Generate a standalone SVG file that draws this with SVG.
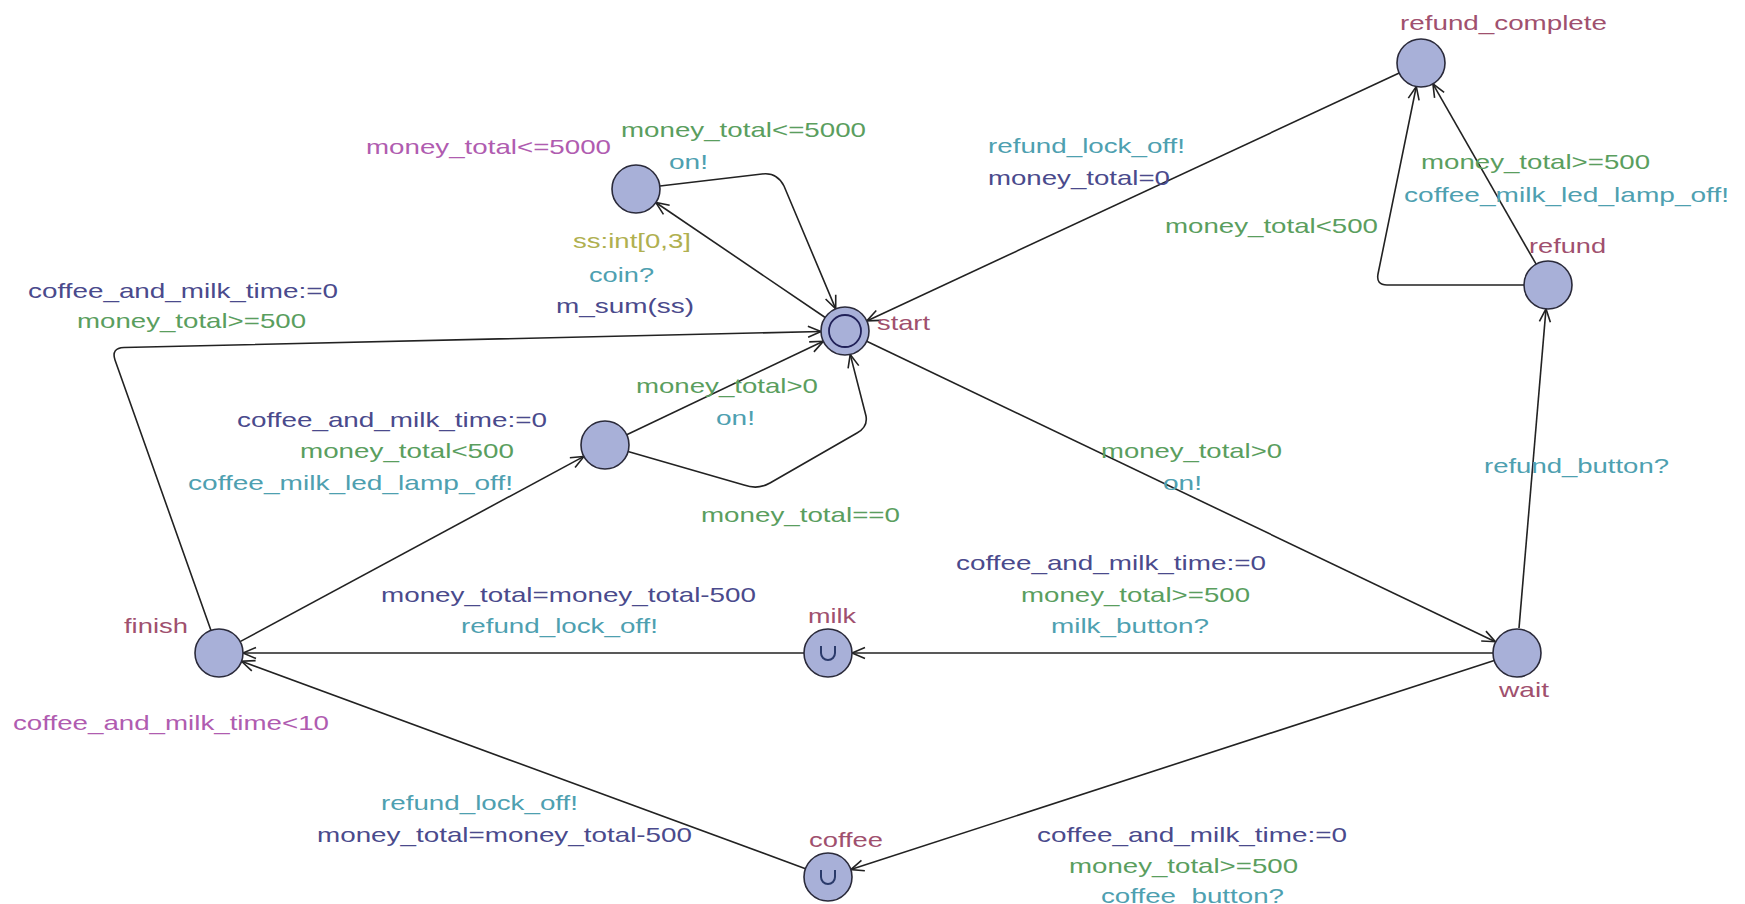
<svg xmlns="http://www.w3.org/2000/svg" width="1745" height="904" viewBox="0 0 1745 904">
<style>
text{font-family:"Liberation Sans",Arial,sans-serif;font-size:21px}
.nm{fill:#a0506e}
.inv{fill:#b05cb0}
.gd{fill:#5a9e5e}
.sy{fill:#4ea0b0}
.up{fill:#4a4a8c}
.sel{fill:#b0b050}
.loc{fill:#a8b0d8;stroke:#2a2a3a;stroke-width:1.6}
.edge{fill:none;stroke:#222;stroke-width:1.6;marker-end:url(#arr)}
.urg{fill:none;stroke:#2a3a6a;stroke-width:2}
</style>
<defs>
<marker id="arr" markerWidth="16" markerHeight="14" refX="14" refY="7" orient="auto" markerUnits="userSpaceOnUse">
<path d="M1,1.5 L14,7 L1,12.5" fill="none" stroke="#222" stroke-width="1.6"/>
</marker>
</defs>
<rect width="1745" height="904" fill="#fff"/>
<g id="connectors">
<path class="edge" d="M660,186 L762,174 Q777,172 784,186 L835.7,308.9"/>
<path class="edge" d="M825.2,317.5 L655.8,202.5"/>
<path class="edge" d="M1399.2,73.1 L866.8,320.9"/>
<path class="edge" d="M1536.1,264.2 L1432.9,83.8"/>
<path class="edge" d="M1524,285 L1387,285 Q1376,285 1378,274 L1416.3,86.5"/>
<path class="edge" d="M1519,628.1 L1546,308.9"/>
<path class="edge" d="M866.7,341.3 L1495.3,641.7"/>
<path class="edge" d="M1493,653 L852,653"/>
<path class="edge" d="M1494.2,660.4 L850.8,869.6"/>
<path class="edge" d="M804,653 L243,653"/>
<path class="edge" d="M805.5,868.7 L241.5,661.3"/>
<path class="edge" d="M240.1,641.6 L583.9,456.4"/>
<path class="edge" d="M626.7,434.7 L823.3,341.3"/>
<path class="edge" d="M628,451.5 L744,485 Q758,490 770,483 L857,433 Q868,427 866,416 L850.2,354.4"/>
<path class="edge" d="M211,630.4 L115,360 Q111,348 124,347.5 L821,331.5"/>
</g>
<g id="edge-labels">
<text class="inv" x="366" y="154" textLength="245" lengthAdjust="spacingAndGlyphs">money_total&lt;=5000</text>
<text class="gd" x="621" y="137" textLength="245" lengthAdjust="spacingAndGlyphs">money_total&lt;=5000</text>
<text class="sy" x="669" y="169" textLength="39" lengthAdjust="spacingAndGlyphs">on!</text>
<text class="sy" x="988" y="153" textLength="197" lengthAdjust="spacingAndGlyphs">refund_lock_off!</text>
<text class="up" x="988" y="185" textLength="182" lengthAdjust="spacingAndGlyphs">money_total=0</text>
<text class="gd" x="1421" y="169" textLength="229" lengthAdjust="spacingAndGlyphs">money_total&gt;=500</text>
<text class="sy" x="1404" y="202" textLength="325" lengthAdjust="spacingAndGlyphs">coffee_milk_led_lamp_off!</text>
<text class="gd" x="1165" y="233" textLength="213" lengthAdjust="spacingAndGlyphs">money_total&lt;500</text>
<text class="sel" x="573" y="248" textLength="118" lengthAdjust="spacingAndGlyphs">ss:int[0,3]</text>
<text class="sy" x="589" y="282" textLength="65" lengthAdjust="spacingAndGlyphs">coin?</text>
<text class="up" x="556" y="313" textLength="138" lengthAdjust="spacingAndGlyphs">m_sum(ss)</text>
<text class="up" x="28" y="298" textLength="310" lengthAdjust="spacingAndGlyphs">coffee_and_milk_time:=0</text>
<text class="gd" x="77" y="328" textLength="229" lengthAdjust="spacingAndGlyphs">money_total&gt;=500</text>
<text class="gd" x="636" y="393" textLength="182" lengthAdjust="spacingAndGlyphs">money_total&gt;0</text>
<text class="sy" x="716" y="425" textLength="39" lengthAdjust="spacingAndGlyphs">on!</text>
<text class="up" x="237" y="427" textLength="310" lengthAdjust="spacingAndGlyphs">coffee_and_milk_time:=0</text>
<text class="gd" x="300" y="458" textLength="214" lengthAdjust="spacingAndGlyphs">money_total&lt;500</text>
<text class="sy" x="188" y="490" textLength="325" lengthAdjust="spacingAndGlyphs">coffee_milk_led_lamp_off!</text>
<text class="gd" x="701" y="522" textLength="199" lengthAdjust="spacingAndGlyphs">money_total==0</text>
<text class="gd" x="1101" y="458" textLength="181" lengthAdjust="spacingAndGlyphs">money_total&gt;0</text>
<text class="sy" x="1163" y="490" textLength="39" lengthAdjust="spacingAndGlyphs">on!</text>
<text class="sy" x="1484" y="473" textLength="185" lengthAdjust="spacingAndGlyphs">refund_button?</text>
<text class="up" x="956" y="570" textLength="310" lengthAdjust="spacingAndGlyphs">coffee_and_milk_time:=0</text>
<text class="gd" x="1021" y="602" textLength="229" lengthAdjust="spacingAndGlyphs">money_total&gt;=500</text>
<text class="sy" x="1051" y="633" textLength="158" lengthAdjust="spacingAndGlyphs">milk_button?</text>
<text class="up" x="381" y="602" textLength="375" lengthAdjust="spacingAndGlyphs">money_total=money_total-500</text>
<text class="sy" x="461" y="633" textLength="197" lengthAdjust="spacingAndGlyphs">refund_lock_off!</text>
<text class="inv" x="13" y="730" textLength="316" lengthAdjust="spacingAndGlyphs">coffee_and_milk_time&lt;10</text>
<text class="sy" x="381" y="810" textLength="197" lengthAdjust="spacingAndGlyphs">refund_lock_off!</text>
<text class="up" x="317" y="842" textLength="375" lengthAdjust="spacingAndGlyphs">money_total=money_total-500</text>
<text class="up" x="1037" y="842" textLength="310" lengthAdjust="spacingAndGlyphs">coffee_and_milk_time:=0</text>
<text class="gd" x="1069" y="873" textLength="229" lengthAdjust="spacingAndGlyphs">money_total&gt;=500</text>
<text class="sy" x="1101" y="903" textLength="183" lengthAdjust="spacingAndGlyphs">coffee_button?</text>
</g>
<g id="node-A">
<circle class="loc" cx="636" cy="189" r="24"/>
</g>
<g id="node-start">
<circle class="loc" cx="845" cy="331" r="24"/>
<circle cx="845" cy="331" r="16" fill="none" stroke="#202058" stroke-width="1.8"/>
<text class="nm" x="877" y="330" textLength="53" lengthAdjust="spacingAndGlyphs">start</text>
</g>
<g id="node-refund_complete">
<circle class="loc" cx="1421" cy="63" r="24"/>
<text class="nm" x="1400" y="30" textLength="207" lengthAdjust="spacingAndGlyphs">refund_complete</text>
</g>
<g id="node-refund">
<circle class="loc" cx="1548" cy="285" r="24"/>
<text class="nm" x="1529" y="253" textLength="77" lengthAdjust="spacingAndGlyphs">refund</text>
</g>
<g id="node-wait">
<circle class="loc" cx="1517" cy="653" r="24"/>
<text class="nm" x="1499" y="697" textLength="50" lengthAdjust="spacingAndGlyphs">wait</text>
</g>
<g id="node-B">
<circle class="loc" cx="605" cy="445" r="24"/>
</g>
<g id="node-milk">
<circle class="loc" cx="828" cy="653" r="24"/>
<path class="urg" d="M821,646 v7 a7,7 0 0 0 14,0 v-7"/>
<text class="nm" x="808" y="623" textLength="48" lengthAdjust="spacingAndGlyphs">milk</text>
</g>
<g id="node-coffee">
<circle class="loc" cx="828" cy="877" r="24"/>
<path class="urg" d="M821,870 v7 a7,7 0 0 0 14,0 v-7"/>
<text class="nm" x="809" y="847" textLength="74" lengthAdjust="spacingAndGlyphs">coffee</text>
</g>
<g id="node-finish">
<circle class="loc" cx="219" cy="653" r="24"/>
<text class="nm" x="124" y="633" textLength="64" lengthAdjust="spacingAndGlyphs">finish</text>
</g>
</svg>
